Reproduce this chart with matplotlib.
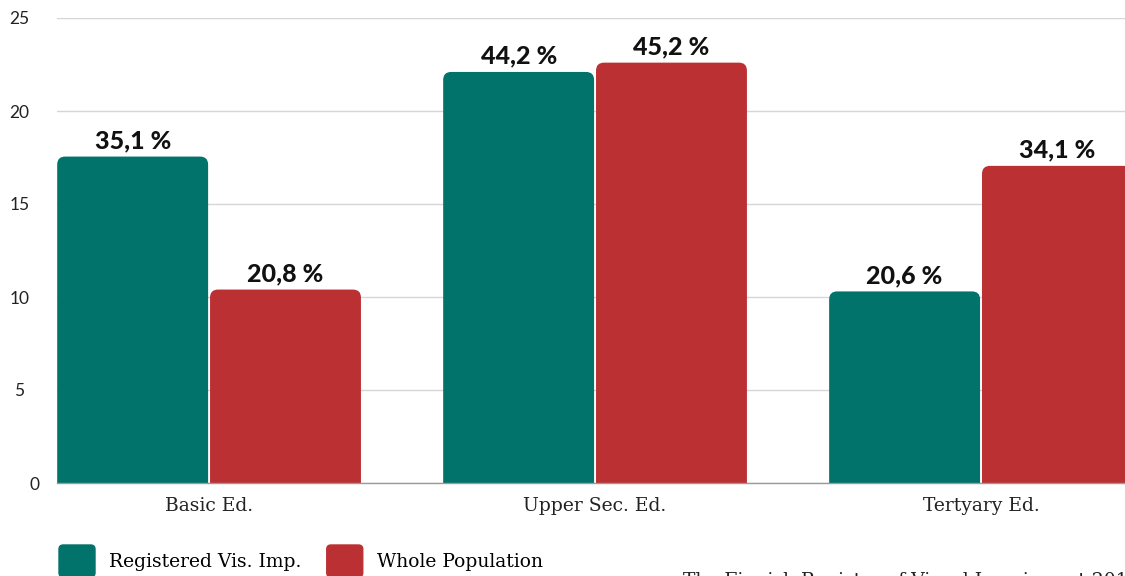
import matplotlib
matplotlib.use("Agg")
import matplotlib.pyplot as plt
import matplotlib.patches as mpatches
import matplotlib.transforms as mtransforms
from matplotlib.legend_handler import HandlerPatch
import numpy as np

# Education level shares (%)
categories = ["Basic Ed.", "Upper Sec. Ed.", "Tertyary Ed."]
registered_pct = [35.1, 44.2, 20.6]
population_pct = [20.8, 45.2, 34.1]
series_names = ["Registered Vis. Imp.", "Whole Population"]
y_ticks = [0, 5, 10, 15, 20, 25]
source_text = "The Finnish Register of Visual Impairment 2019"

GREEN = "#02736b"
RED = "#bb3133"
SERIF = ["DejaVu Serif"]
BOLD = ["Lato", "DejaVu Sans"]
SANS = ["Lato", "DejaVu Sans"]

W, H = 1125, 576
fig = plt.figure(figsize=(W / 100, H / 100), dpi=100)
ax = fig.add_axes([57 / W, (H - 483) / H, 1 - 57 / W, (483 - 18) / H])

x = np.arange(len(categories))
bw = 0.391
off = 0.198

# the bar axis is in half-percent units
reg_h = [v / 2 for v in registered_pct]
pop_h = [v / 2 for v in population_pct]

bars_reg = ax.bar(x - off, reg_h, width=bw, color=GREEN)
bars_pop = ax.bar(x + off, pop_h, width=bw, color=RED)

ax.set_xlim(-0.394, 2.373)
ax.set_ylim(0, 25)

# pixel scales used to keep the corner radius round
px_x = (W - 57) / (2.373 + 0.394)
px_y = (483 - 18) / 25
radius_px = 8

def round_top(bars, color, labels):
    for b, lab in zip(bars, labels):
        b.set_visible(False)
        x0, w, h = b.get_x(), b.get_width(), b.get_height()
        p = mpatches.FancyBboxPatch(
            (x0, -2), w, h + 2,
            boxstyle=f"round,pad=0,rounding_size={radius_px / px_x}",
            mutation_aspect=px_x / px_y,
            facecolor=color, edgecolor="none", zorder=3)
        ax.add_patch(p)
        ax.annotate(f"{lab:.1f} %".replace(".", ","), (x0 + w / 2, h),
                    xytext=(0, 3), textcoords="offset points",
                    ha="center", va="bottom", fontsize=18,
                    fontweight="black", family=BOLD, color="#111111",
                    zorder=4)

round_top(bars_reg, GREEN, registered_pct)
round_top(bars_pop, RED, population_pct)

ax.set_yticks(y_ticks)
ax.set_yticklabels([str(t) for t in y_ticks], family=SANS, fontsize=12.5,
                   color="#222222", ha="center")
ax.tick_params(axis="y", length=0, pad=27)
ax.set_xticks(x)
ax.set_xticklabels(categories, family=SERIF, fontsize=13.5, color="#222222")
ax.tick_params(axis="x", length=0, pad=10)

# the zero label sits a little further right, near the baseline
zero_lbl = ax.yaxis.get_major_ticks()[0].label1
zero_lbl.set_transform(zero_lbl.get_transform() +
                       mtransforms.ScaledTranslation(0.15, 0, fig.dpi_scale_trans))

ax.grid(axis="y", color="#d6d6d6", linewidth=1.0, zorder=0)
ax.set_axisbelow(True)
for s in ["top", "right", "left"]:
    ax.spines[s].set_visible(False)
ax.spines["bottom"].set_color("#9a9a9a")
ax.spines["bottom"].set_linewidth(1.0)
ax.spines["bottom"].set_zorder(5)

def rounded_handle(legend, orig_handle, xdescent, ydescent, width, height, fontsize):
    return mpatches.FancyBboxPatch((-xdescent, -ydescent), width, height,
                                   boxstyle="round,pad=0,rounding_size=3")

handles = [mpatches.Patch(color=GREEN, label=series_names[0]),
           mpatches.Patch(color=RED, label=series_names[1])]
fs = 13.5
fs_px = fs * 100 / 72
fig.legend(handles=handles, loc="upper left",
           bbox_to_anchor=(59 / W, 1 - 545 / H), ncol=2, frameon=False,
           prop={"family": SERIF, "size": fs},
           handlelength=36 / fs_px, handleheight=42 / fs_px,
           handletextpad=0.75, columnspacing=1.35, borderpad=0,
           borderaxespad=0,
           handler_map={mpatches.Patch: HandlerPatch(patch_func=rounded_handle)})

fig.text(683 / W, 1 - 586 / H, source_text, family=SERIF, fontsize=13.5,
         color="#222222", ha="left", va="baseline")

fig.savefig("out.png", dpi=100)
